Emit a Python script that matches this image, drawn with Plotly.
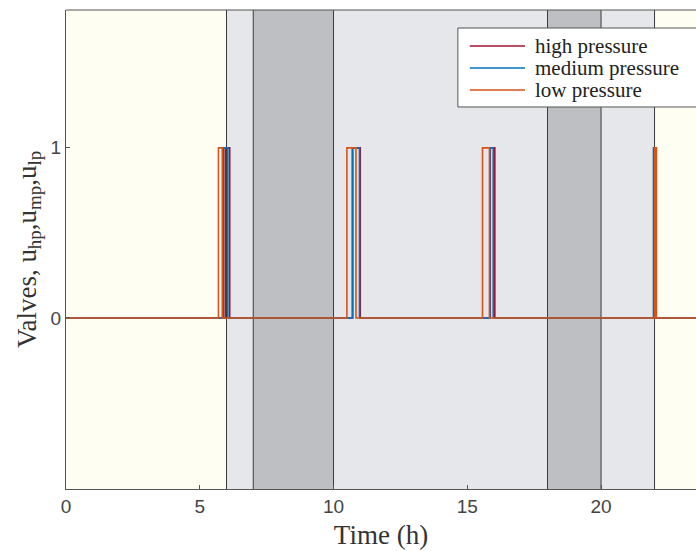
import plotly.graph_objects as go

# ---- data ----
series_names = ["high pressure", "medium pressure", "low pressure"]
series_colors = ["#A2142F", "#0072BD", "#D95319"]
# valve opening intervals (h): (open, close)
hp_pulses = [(5.95, 6.12), (10.72, 11.00), (15.86, 16.03), (22.00, 22.05)]
mp_pulses = [(5.88, 6.05), (10.70, 10.97), (15.84, 15.97), (21.96, 21.99)]
lp_pulses = [(5.70, 5.84), (10.50, 10.84), (15.57, 15.83), (22.01, 22.07)]
t_start, t_end = 0.0, 24.0

# background phases (h) and their shades
phase_edges = [0, 6, 7, 10, 18, 20, 22, 24]
phase_colors = ["#FEFEF3", "#E6E7EA", "#BEBFC3", "#E6E7EA", "#BEBFC3", "#E6E7EA", "#FEFEF3"]
phase_lines = [6, 7, 10, 18, 20, 22]

x_ticks = [0, 5, 10, 15, 20]
y_ticks = [0, 1]


def step_series(pulses):
    xs, ys = [t_start], [0]
    for on, off in pulses:
        xs += [on, on, off, off]
        ys += [0, 1, 1, 0]
    xs.append(t_end)
    ys.append(0)
    return xs, ys


fig = go.Figure()
for name, color, pulses in zip(series_names, series_colors, [hp_pulses, mp_pulses, lp_pulses]):
    xs, ys = step_series(pulses)
    fig.add_trace(go.Scatter(x=xs, y=ys, mode="lines", name=name, showlegend=False,
                             line=dict(color=color, width=1.6)))

shapes = []
for i, c in enumerate(phase_colors):
    shapes.append(dict(type="rect", xref="x", yref="paper", x0=phase_edges[i], x1=phase_edges[i + 1],
                       y0=0, y1=1, fillcolor=c, line=dict(width=0), layer="below"))
for xv in phase_lines:
    shapes.append(dict(type="line", xref="x", yref="paper", x0=xv, x1=xv, y0=0, y1=1,
                       line=dict(color="#3a3a3a", width=1), layer="below"))
# top border
shapes.append(dict(type="line", xref="paper", yref="paper", x0=0, x1=1, y0=1, y1=1,
                   line=dict(color="#555555", width=1)))

# legend box (drawn manually to match the reference's compact layout)
leg_x0, leg_x1, leg_y0, leg_y1 = 0.622, 1.03, 0.7975, 0.9624
shapes.append(dict(type="rect", xref="paper", yref="paper", x0=leg_x0, x1=leg_x1, y0=leg_y0, y1=leg_y1,
                   fillcolor="white", line=dict(color="#555555", width=1), layer="above"))
leg_rows = [0.9248, 0.8789, 0.833]
annotations = []
for name, color, yy in zip(series_names, series_colors, leg_rows):
    shapes.append(dict(type="line", xref="paper", yref="paper", x0=0.641, x1=0.7286, y0=yy, y1=yy,
                       line=dict(color=color, width=1.6), layer="above"))
    annotations.append(dict(xref="paper", yref="paper", x=0.7413, y=yy, xanchor="left", yanchor="middle",
                            text=name, showarrow=False,
                            font=dict(family="Liberation Serif", size=21, color="#222222")))

fig.update_layout(
    width=696, height=551,
    margin=dict(l=66, r=0, t=10, b=62),
    paper_bgcolor="white",
    plot_bgcolor="rgba(0,0,0,0)",
    shapes=shapes,
    annotations=annotations,
    showlegend=False,
    xaxis=dict(range=[0, 23.55], tickvals=x_ticks, showgrid=False, zeroline=False,
               showline=True, linecolor="#555555", linewidth=1,
               ticks="inside", ticklen=4, tickcolor="#555555",
               tickfont=dict(family="Liberation Sans", size=19, color="#444444"),
               title=dict(text="Time (h)", standoff=9,
                          font=dict(family="Liberation Serif", size=27, color="#333333"))),
    yaxis=dict(range=[-1.005, 1.81], tickvals=y_ticks, showgrid=False, zeroline=False,
               showline=True, linecolor="#555555", linewidth=1,
               ticks="inside", ticklen=4, tickcolor="#555555",
               tickfont=dict(family="Liberation Sans", size=19, color="#444444"),
               title=dict(text="Valves, u<sub>hp</sub>,u<sub>mp</sub>,u<sub>lp</sub>", standoff=6,
                          font=dict(family="Liberation Serif", size=27, color="#333333"))),
)

fig.write_html("out.html")
